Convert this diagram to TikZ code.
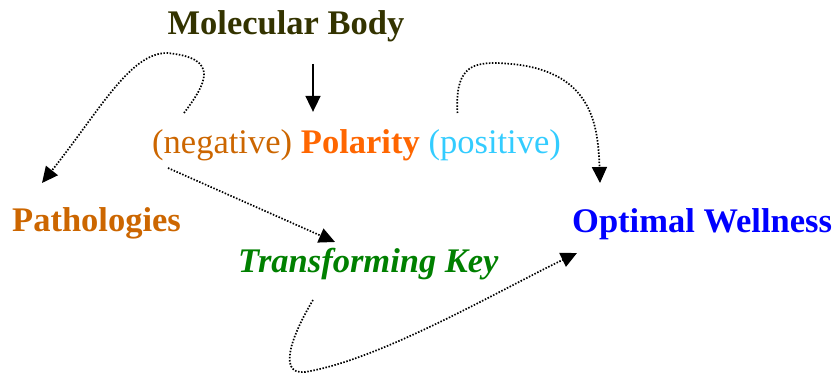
\documentclass[tikz,border=0pt]{standalone}
\usepackage{fontspec}
\setmainfont{Liberation Serif}
\usetikzlibrary{arrows.meta}
\definecolor{molcol}{RGB}{51,51,0}
\definecolor{negcol}{RGB}{204,102,0}
\definecolor{polcol}{RGB}{255,102,0}
\definecolor{poscol}{RGB}{51,204,255}
\definecolor{keycol}{RGB}{0,128,0}
\begin{document}
\begin{tikzpicture}[x=1pt, y=1pt,
    word/.style={inner sep=0pt, anchor=base west, font=\fontsize{34.5}{40}\selectfont},
    dotarrow/.style={line width=1.7pt, dash pattern=on 1.5pt off 1.6pt, -{Triangle[length=16pt, width=15pt]}}]
    \useasboundingbox (0,0) rectangle (838,374);
    \node[word, anchor=base, molcol] (mol) at (286, 339) {\bfseries Molecular Body};
    \node[word, negcol] (neg) at (152, 220) {(negative)};
    \node[word, polcol] (pol) at ([xshift=8.5pt]neg.base east) {\bfseries Polarity};
    \node[word, poscol] (pos) at ([xshift=8.5pt]pol.base east) {(positive)};
    \node[word, negcol] (patho) at (12, 142) {\bfseries Pathologies};
    \node[word, blue] (well) at (572, 141) {\bfseries Optimal Wellness};
    \node[word, keycol] (key) at (238, 101) {\bfseries\itshape Transforming Key};
    \coordinate (down) at ([shift={(27,-29)}]mol.base);
    \draw[line width=1.8pt, -{Triangle[length=16pt, width=15pt]}] (down) -- ([yshift=18pt]down |- pol.north);
    \draw[dotarrow] ([shift={(32,41)}]neg.base west) .. controls (205,289) and (222,316) .. (167,321)
        .. controls (130,321) and (100,264) .. ([shift={(30,49)}]patho.base west);
    \draw[dotarrow] ([shift={(16,-14)}]neg.base west) -- ([shift={(97,31)}]key.base west);
    \draw[dotarrow] ([shift={(29,41)}]pos.base west) .. controls (455,304) and (470,311) .. (495,311)
        .. controls (590,309) and (598,254) .. ([shift={(28,50)}]well.base west);
    \draw[dotarrow] ([shift={(75,-27)}]key.base west) .. controls (295,44) and (275,-1) .. (305,2)
        .. controls (380,14) and (500,84) .. ([shift={(5,-20)}]well.base west);
\end{tikzpicture}
\end{document}
